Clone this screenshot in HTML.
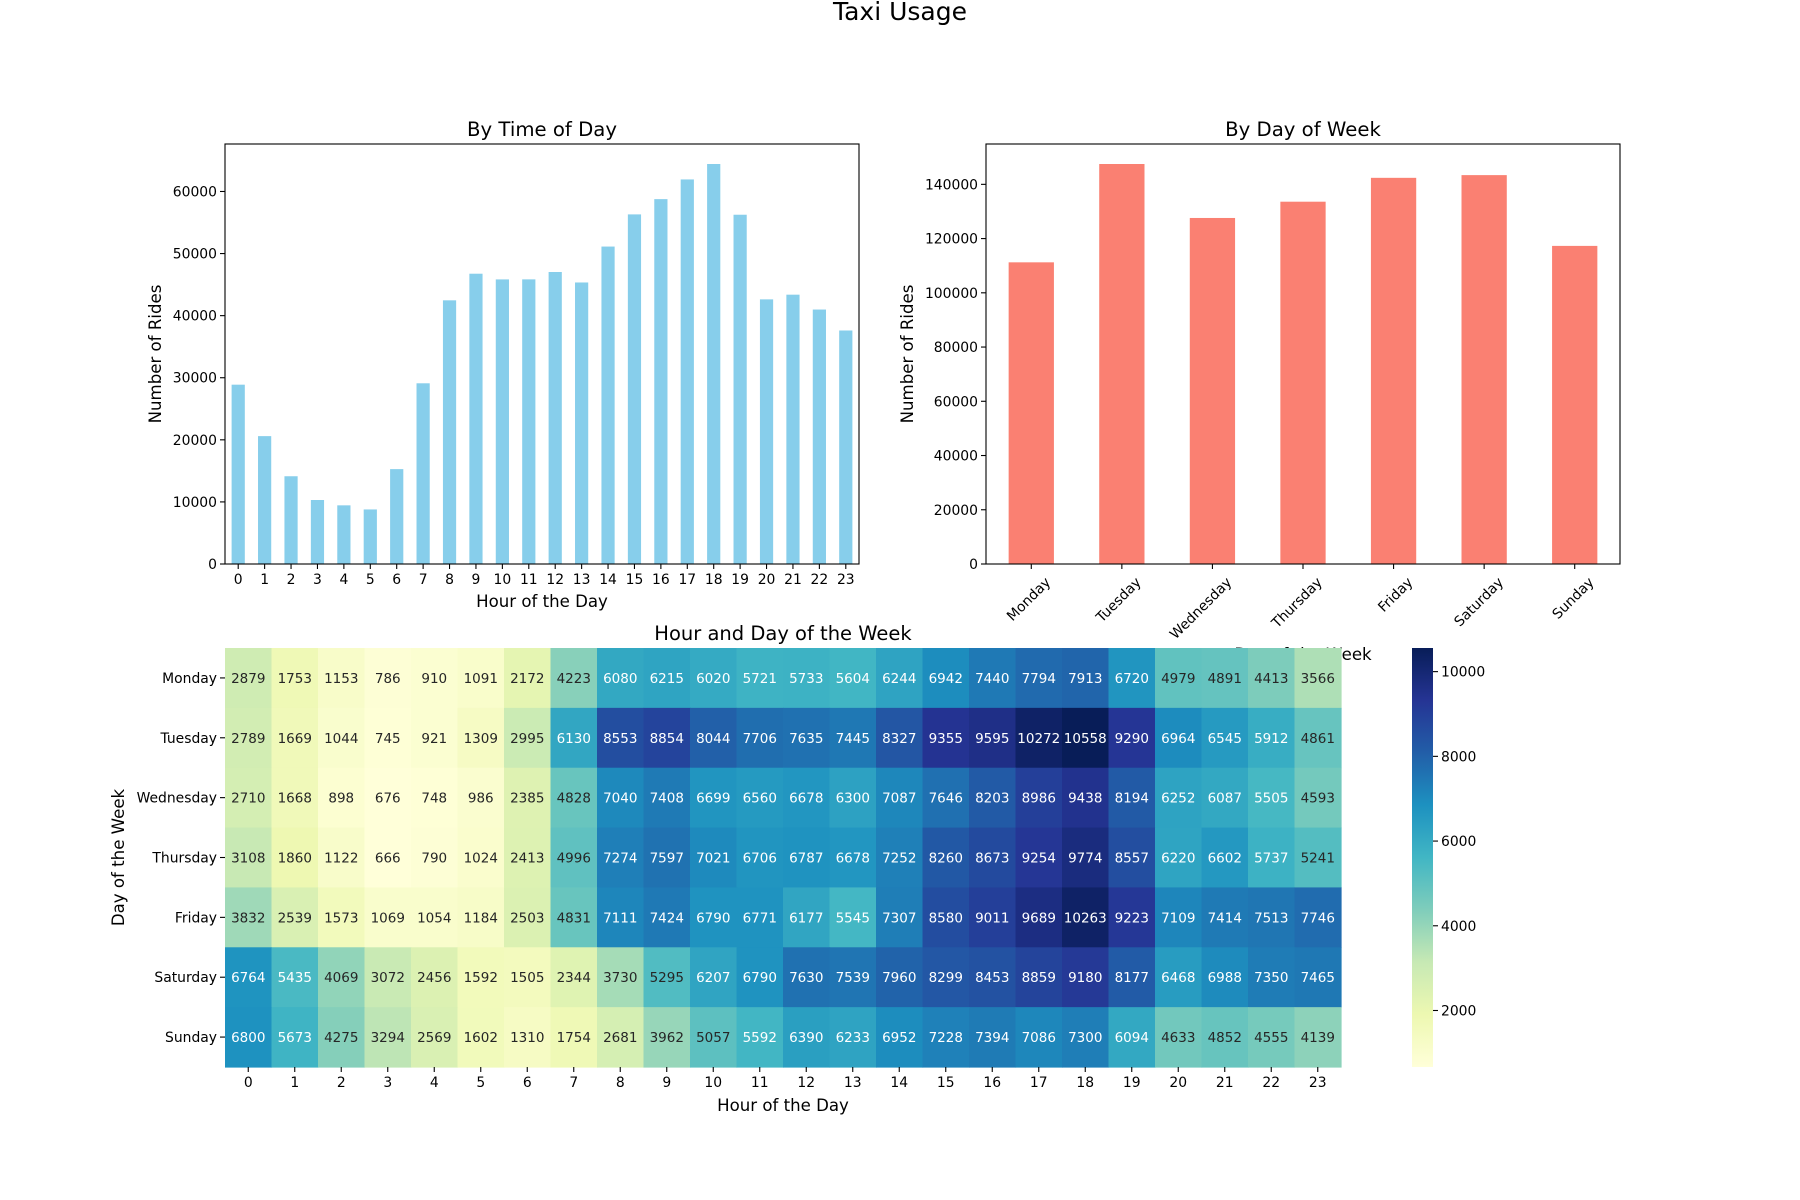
<!DOCTYPE html>
<html><head><meta charset="utf-8"><style>
html,body{margin:0;padding:0;background:#fff;}
svg{display:block;font-family:"DejaVu Sans","Liberation Sans",sans-serif;}
</style></head><body>
<svg id="fig" width="1800" height="1200" viewBox="0 0 1800 1200">
<text x="900" y="20" font-size="25" text-anchor="middle">Taxi Usage</text>
</svg>
<script>
const hours = ['0','1','2','3','4','5','6','7','8','9','10','11','12','13','14','15','16','17','18','19','20','21','22','23'];
const hourRides = [28882,20597,14134,10308,9448,8788,15283,29106,42469,46755,45838,45846,47030,45344,51129,56310,58769,61940,64426,56255,42625,43379,40985,37611];
const hourTicks = [0,10000,20000,30000,40000,50000,60000];
const days = ['Monday','Tuesday','Wednesday','Thursday','Friday','Saturday','Sunday'];
const dayRides = [111242,147500,127600,133600,142400,143400,117300];
const dayTicks = [0,20000,40000,60000,80000,100000,120000,140000];
const heatMonday = [2879,1753,1153,786,910,1091,2172,4223,6080,6215,6020,5721,5733,5604,6244,6942,7440,7794,7913,6720,4979,4891,4413,3566];
const heatTuesday = [2789,1669,1044,745,921,1309,2995,6130,8553,8854,8044,7706,7635,7445,8327,9355,9595,10272,10558,9290,6964,6545,5912,4861];
const heatWednesday = [2710,1668,898,676,748,986,2385,4828,7040,7408,6699,6560,6678,6300,7087,7646,8203,8986,9438,8194,6252,6087,5505,4593];
const heatThursday = [3108,1860,1122,666,790,1024,2413,4996,7274,7597,7021,6706,6787,6678,7252,8260,8673,9254,9774,8557,6220,6602,5737,5241];
const heatFriday = [3832,2539,1573,1069,1054,1184,2503,4831,7111,7424,6790,6771,6177,5545,7307,8580,9011,9689,10263,9223,7109,7414,7513,7746];
const heatSaturday = [6764,5435,4069,3072,2456,1592,1505,2344,3730,5295,6207,6790,7630,7539,7960,8299,8453,8859,9180,8177,6468,6988,7350,7465];
const heatSunday = [6800,5673,4275,3294,2569,1602,1310,1754,2681,3962,5057,5592,6390,6233,6952,7228,7394,7086,7300,6094,4633,4852,4555,4139];
const heat = [heatMonday,heatTuesday,heatWednesday,heatThursday,heatFriday,heatSaturday,heatSunday];
const cbarTicks = [2000,4000,6000,8000,10000];

const NS='http://www.w3.org/2000/svg';
const svg=document.getElementById('fig');
function el(tag,attrs,parent,text){const e=document.createElementNS(NS,tag);for(const k in attrs)e.setAttribute(k,attrs[k]);if(text!==undefined)e.textContent=text;(parent||svg).appendChild(e);return e;}

function barChart(opts){
  const {L,R,T,B,cats,vals,ticks,color,title,xlabel,ylabel,rot,name}=opts;
  const g=el('g',{},svg);
  
  
  const ymax=Math.max(...vals)*1.05;
  const n=cats.length;
  const x=i=>L+(i+0.5)*(R-L)/n;
  const y=v=>B-(v/ymax)*(B-T);
  const bw=0.5*(R-L)/n;
  vals.forEach((v,i)=>{
    const r=el('rect',{x:x(i)-bw/2,y:y(v),width:bw,height:B-y(v),fill:color},g);
    
    
  });
  el('rect',{x:L,y:T,width:R-L,height:B-T,fill:'none',stroke:'#000','stroke-width':1.1},g);
  ticks.forEach(t=>{
    const yy=y(t);
    el('line',{x1:L-5,x2:L,y1:yy,y2:yy,stroke:'#000','stroke-width':1.1},g);
    const tx=el('text',{x:L-8,y:yy+5,'font-size':13.9,'text-anchor':'end'},g,String(t));
    
    
  });
  cats.forEach((c,i)=>{
    const xx=x(i);
    el('line',{x1:xx,x2:xx,y1:B,y2:B+5,stroke:'#000','stroke-width':1.1},g);
    let tx;
    if(rot){const yy=B+19, ax=xx+20;tx=el('text',{x:ax,y:yy,'font-size':13.9,'text-anchor':'end',transform:`rotate(-45 ${ax} ${yy})`},g,c);}
    else{tx=el('text',{x:xx,y:B+20,'font-size':13.9,'text-anchor':'middle'},g,c);}
    
    
  });
  const t1=el('text',{x:(L+R)/2,y:T-8,'font-size':19.7,'text-anchor':'middle'},g,title);
  
  
  const xl=el('text',{x:(L+R)/2,y:opts.xlY,'font-size':16.6,'text-anchor':'middle'},g,xlabel);
  
  
  const yl=el('text',{x:opts.ylX,y:(T+B)/2,'font-size':16.6,'text-anchor':'middle',transform:`rotate(-90 ${opts.ylX} ${(T+B)/2})`},g,ylabel);
  
  
}
barChart({L:225,R:859,T:144,B:564,cats:hours,vals:hourRides,ticks:hourTicks,color:'#87ceeb',title:'By Time of Day',xlabel:'Hour of the Day',ylabel:'Number of Rides',rot:false,name:'hourly-bar-chart',xlY:607,ylX:161});
barChart({L:986,R:1620,T:144,B:564,cats:days,vals:dayRides,ticks:dayTicks,color:'#fa8072',title:'By Day of Week',xlabel:'Day of the Week',ylabel:'Number of Rides',rot:true,name:'daily-bar-chart',xlY:660,ylX:913});

// heatmap
const stops=['#ffffd9','#edf8b1','#c7e9b4','#7fcdbb','#41b6c4','#1d91c0','#225ea8','#253494','#081d58'].map(h=>[parseInt(h.slice(1,3),16),parseInt(h.slice(3,5),16),parseInt(h.slice(5,7),16)]);
const vmin=Math.min(...heat.flat()), vmax=Math.max(...heat.flat());
function cmap(v){let t=(v-vmin)/(vmax-vmin);t=Math.max(0,Math.min(1,t));const p=t*(stops.length-1);const i=Math.min(stops.length-2,Math.floor(p));const f=p-i;return stops[i].map((c,k)=>Math.round(c+(stops[i+1][k]-c)*f));}
function lum(c){const l=c.map(x=>{x/=255;return x<=0.03928?x/12.92:Math.pow((x+0.055)/1.055,2.4);});return 0.2126*l[0]+0.7152*l[1]+0.0722*l[2];}
const HL=225,HR=1341,HT=648,HB=1067;
const hg=el('g',{},svg);


const cw=(HR-HL)/hours.length, ch=(HB-HT)/days.length;
const cx=j=>HL+j*cw, cy=i=>HT+i*ch;
heat.forEach((row,i)=>row.forEach((v,j)=>{
  const c=cmap(v);
  const r=el('rect',{x:cx(j),y:cy(i),width:cw+0.6,height:ch+0.6,fill:`rgb(${c})`},hg);
  
  
  const t=el('text',{x:cx(j)+cw/2,y:cy(i)+ch/2+5,'font-size':13.5,'text-anchor':'middle',fill:lum(c)>0.408?'#262626':'#ffffff'},hg,String(v));
  
  
}));
hours.forEach((h,j)=>{
  const xx=cx(j)+cw/2;
  el('line',{x1:xx,x2:xx,y1:HB,y2:HB+5,stroke:'#000','stroke-width':1.1},hg);
  const t=el('text',{x:xx,y:HB+20,'font-size':13.9,'text-anchor':'middle'},hg,h);
  
  
});
days.forEach((d,i)=>{
  const yy=cy(i)+ch/2;
  el('line',{x1:HL-5,x2:HL,y1:yy,y2:yy,stroke:'#000','stroke-width':1.1},hg);
  const t=el('text',{x:HL-8,y:yy+5,'font-size':13.9,'text-anchor':'end'},hg,d);
  
  
});
const ht=el('text',{x:(HL+HR)/2,y:640,'font-size':19.5,'text-anchor':'middle'},hg,'Hour and Day of the Week');


const hx=el('text',{x:(HL+HR)/2,y:1111,'font-size':16.6,'text-anchor':'middle'},hg,'Hour of the Day');


const hy=el('text',{x:124,y:(HT+HB)/2,'font-size':16.6,'text-anchor':'middle',transform:`rotate(-90 124 ${(HT+HB)/2})`},hg,'Day of the Week');



// colorbar
const CL=1412,CR=1433;
const cg=el('g',{},svg);


const defs=el('defs',{},svg);
const grad=el('linearGradient',{id:'cbg',x1:0,y1:1,x2:0,y2:0},defs);
stops.forEach((s,k)=>el('stop',{offset:k/(stops.length-1),'stop-color':`rgb(${s})`},grad));
el('rect',{x:CL,y:HT,width:CR-CL,height:HB-HT,fill:'url(#cbg)'},cg);
const cyv=v=>HB-(v-vmin)/(vmax-vmin)*(HB-HT);
cbarTicks.forEach(t=>{
  const yy=cyv(t);
  el('line',{x1:CR,x2:CR+5,y1:yy,y2:yy,stroke:'#000','stroke-width':1.1},cg);
  const tx=el('text',{x:CR+8,y:yy+5,'font-size':13.9},cg,String(t));
  
  
});
</script>
</body></html>
